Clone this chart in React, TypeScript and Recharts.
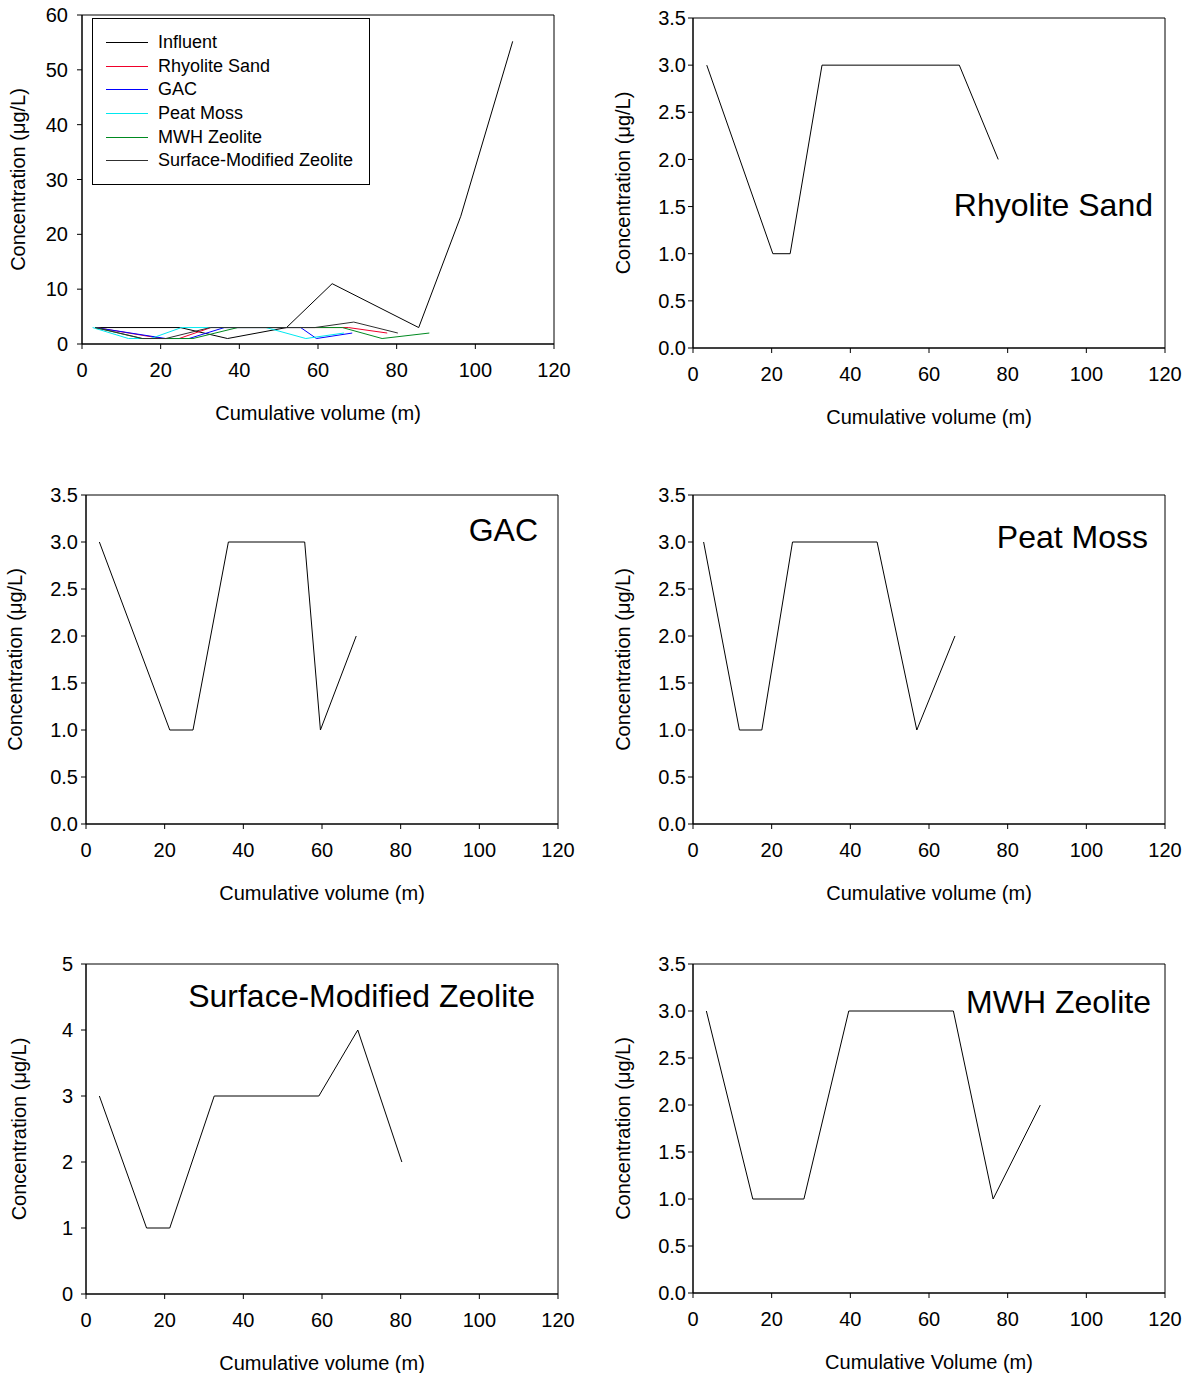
import React from 'react';
import {
  Legend,
  Line,
  LineChart,
  ReferenceArea,
  XAxis,
  YAxis,
} from 'recharts';

const FONT = '"Liberation Sans", Arial, Helvetica, sans-serif';

// x tick values shared by every panel
const xTicks = [0, 20, 40, 60, 80, 100, 120];
const yTicksHalf = [0, 0.5, 1, 1.5, 2, 2.5, 3, 3.5];
const yTicksInfluent = [0, 10, 20, 30, 40, 50, 60];
const yTicksSmz = [0, 1, 2, 3, 4, 5];

// cumulative volume (m) / concentration (µg/L)
const influentVolume = [3.3, 25, 37, 52, 63.6, 85.6, 96.3, 109.5];
const influentConc = [3, 3, 1, 3, 11, 3, 23.3, 55.2];

const rhyoliteVolume = [3.5, 20.3, 24.7, 32.8, 67.7, 77.6];
const rhyoliteConc = [3, 1, 1, 3, 3, 2];

const gacVolume = [3.4, 21.3, 27.2, 36.2, 55.6, 59.6, 68.7];
const gacConc = [3, 1, 1, 3, 3, 1, 2];

const peatVolume = [2.7, 11.8, 17.5, 25.3, 46.8, 56.9, 66.6];
const peatConc = [3, 1, 1, 3, 3, 1, 2];

const mwhVolume = [3.4, 15.2, 28.2, 39.6, 66.2, 76.3, 88.3];
const mwhConc = [3, 1, 1, 3, 3, 1, 2];

const smzVolume = [3.4, 15.4, 21.3, 32.6, 59.2, 69.1, 80.3];
const smzConc = [3, 1, 1, 3, 3, 4, 2];

const zip = (xs: number[], ys: number[]) => xs.map((x, i) => ({ x, y: ys[i] }));

const series = [
  { name: 'Influent', color: '#000000', data: zip(influentVolume, influentConc) },
  { name: 'Rhyolite Sand', color: '#f0002a', data: zip(rhyoliteVolume, rhyoliteConc) },
  { name: 'GAC', color: '#0000ff', data: zip(gacVolume, gacConc) },
  { name: 'Peat Moss', color: '#00e8f0', data: zip(peatVolume, peatConc) },
  { name: 'MWH Zeolite', color: '#008a20', data: zip(mwhVolume, mwhConc) },
  { name: 'Surface-Modified Zeolite', color: '#303030', data: zip(smzVolume, smzConc) },
];

const byName = (n: string) => series.find((s) => s.name === n)!;

const Y_AXIS_W = 82;
const M_TOP = 15;
const M_RIGHT = 30;
const X_AXIS_H = 85;

interface PanelProps {
  left: number;
  top: number;
  w: number;
  h: number;
  yMax: number;
  yTicks: number[];
  decimals: number;
  yTickMargin: number;
  yTitleX: number;
  xTitle: string;
  lines: typeof series;
  legend?: boolean;
}

function LegendBox({ payload }: any) {
  const order = series.map((s) => s.name);
  const items = [...(payload || [])].sort(
    (a: any, b: any) => order.indexOf(a.value) - order.indexOf(b.value)
  );
  return (
    <div
      style={{
        width: 278,
        height: 167,
        boxSizing: 'border-box',
        border: '1px solid #000',
        background: '#fff',
        paddingTop: 12,
        fontFamily: FONT,
      }}
    >
      {items.map((entry: any) => (
        <div
          key={entry.value}
          style={{ display: 'flex', alignItems: 'center', height: 23.6 }}
        >
          <span
            style={{
              display: 'inline-block',
              marginLeft: 13,
              width: 42,
              height: 0,
              borderTop: `1px solid ${byName(entry.value)?.color ?? entry.color}`,
            }}
          />
          <span style={{ marginLeft: 10, fontSize: 18, color: '#000' }}>
            {entry.value}
          </span>
        </div>
      ))}
    </div>
  );
}

function Panel({
  left,
  top,
  w,
  h,
  yMax,
  yTicks,
  decimals,
  yTickMargin,
  yTitleX,
  xTitle,
  lines,
  legend,
}: PanelProps) {
  const chartLeft = left - Y_AXIS_W;
  const chartTop = top - M_TOP;
  const tickStyle = { fill: '#000', fontSize: 20, fontFamily: FONT };
  return (
    <div style={{ position: 'absolute', left: chartLeft, top: chartTop }}>
      <LineChart
        width={Y_AXIS_W + w + M_RIGHT}
        height={M_TOP + h + X_AXIS_H}
        margin={{ top: M_TOP, right: M_RIGHT, bottom: 0, left: 0 }}
      >
        <XAxis
          type="number"
          dataKey="x"
          domain={[0, 120]}
          ticks={xTicks}
          height={X_AXIS_H}
          tick={tickStyle}
          tickSize={5}
          tickMargin={14}
          stroke="#000"
          tickLine={{ stroke: '#000' }}
          axisLine={{ stroke: '#000' }}
          label={{
            value: xTitle,
            position: 'insideBottom',
            offset: 9,
            fill: '#000',
            fontSize: 20,
            fontFamily: FONT,
          }}
        />
        <YAxis
          type="number"
          dataKey="y"
          domain={[0, yMax]}
          ticks={yTicks}
          width={Y_AXIS_W}
          tick={tickStyle}
          tickSize={5}
          tickMargin={yTickMargin}
          tickFormatter={(v: number) => v.toFixed(decimals)}
          stroke="#000"
          tickLine={{ stroke: '#000' }}
          axisLine={{ stroke: '#000' }}
          label={{
            value: 'Concentration (μg/L)',
            angle: -90,
            position: 'insideLeft',
            offset: yTitleX - chartLeft,
            fill: '#000',
            fontSize: 20,
            fontFamily: FONT,
            style: { textAnchor: 'middle' },
          }}
        />
        <ReferenceArea
          x1={0}
          x2={120}
          y1={0}
          y2={yMax}
          fill="none"
          fillOpacity={0}
          stroke="#000"
          strokeWidth={1}
        />
        {lines.map((s) => (
          <Line
            key={s.name}
            name={s.name}
            data={s.data}
            dataKey="y"
            type="linear"
            stroke={lines.length > 1 ? s.color : '#000'}
            strokeWidth={1}
            dot={false}
            activeDot={false}
            isAnimationActive={false}
          />
        ))}
        {legend && (
          <Legend
            layout="vertical"
            align="center"
            verticalAlign="middle"
            content={LegendBox}
            wrapperStyle={{ left: 92 - chartLeft, top: 18 - chartTop, width: 278 }}
          />
        )}
      </LineChart>
    </div>
  );
}

function PanelTitle({ text, right, cy }: { text: string; right: number; cy: number }) {
  return (
    <div
      style={{
        position: 'absolute',
        right: 1191 - right,
        top: cy - 15.5,
        fontSize: 32,
        lineHeight: '32px',
        fontFamily: FONT,
        color: '#000',
        whiteSpace: 'nowrap',
      }}
    >
      {text}
    </div>
  );
}

export default function App() {
  return (
    <div
      style={{
        position: 'absolute',
        left: 0,
        top: 0,
        width: 1191,
        height: 1373,
        background: '#fff',
        overflow: 'hidden',
      }}
    >
      <Panel
        left={82}
        top={15}
        w={472}
        h={329}
        yMax={60}
        yTicks={yTicksInfluent}
        decimals={0}
        yTickMargin={9}
        yTitleX={18}
        xTitle="Cumulative volume (m)"
        lines={series}
        legend
      />
      <Panel
        left={693}
        top={18}
        w={472}
        h={330}
        yMax={3.5}
        yTicks={yTicksHalf}
        decimals={1}
        yTickMargin={2}
        yTitleX={623}
        xTitle="Cumulative volume (m)"
        lines={[byName('Rhyolite Sand')]}
      />
      <Panel
        left={86}
        top={495}
        w={472}
        h={329}
        yMax={3.5}
        yTicks={yTicksHalf}
        decimals={1}
        yTickMargin={3}
        yTitleX={15}
        xTitle="Cumulative volume (m)"
        lines={[byName('GAC')]}
      />
      <Panel
        left={693}
        top={495}
        w={472}
        h={329}
        yMax={3.5}
        yTicks={yTicksHalf}
        decimals={1}
        yTickMargin={2}
        yTitleX={623}
        xTitle="Cumulative volume (m)"
        lines={[byName('Peat Moss')]}
      />
      <Panel
        left={86}
        top={964}
        w={472}
        h={330}
        yMax={5}
        yTicks={yTicksSmz}
        decimals={0}
        yTickMargin={8}
        yTitleX={19}
        xTitle="Cumulative volume (m)"
        lines={[byName('Surface-Modified Zeolite')]}
      />
      <Panel
        left={693}
        top={964}
        w={472}
        h={329}
        yMax={3.5}
        yTicks={yTicksHalf}
        decimals={1}
        yTickMargin={2}
        yTitleX={623}
        xTitle="Cumulative Volume (m)"
        lines={[byName('MWH Zeolite')]}
      />
      <PanelTitle text="Rhyolite Sand" right={1153} cy={204} />
      <PanelTitle text="GAC" right={538} cy={529} />
      <PanelTitle text="Peat Moss" right={1148} cy={536} />
      <PanelTitle text="Surface-Modified Zeolite" right={535} cy={995} />
      <PanelTitle text="MWH Zeolite" right={1151} cy={1001} />
    </div>
  );
}
